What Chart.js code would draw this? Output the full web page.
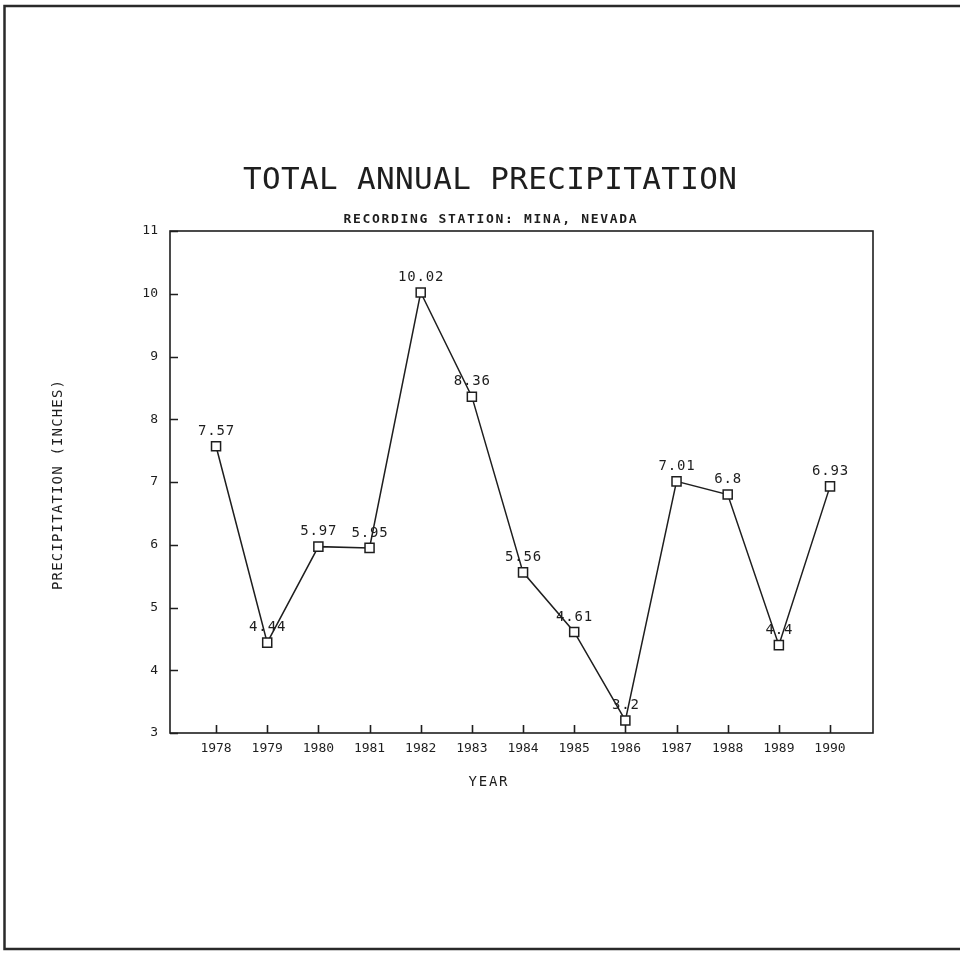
<!DOCTYPE html>
<html>
<head>
<meta charset="utf-8">
<title>Total Annual Precipitation</title>
<script src="https://cdn.jsdelivr.net/npm/chart.js@4.4.1/dist/chart.umd.min.js"></script>
<style>
  html, body { margin: 0; padding: 0; background: #ffffff; }
  canvas { display: block; }
</style>
</head>
<body>
<canvas id="chart" width="960" height="959"></canvas>
<script>
// Annual totals recorded at the Mina, Nevada station
const years = [1978, 1979, 1980, 1981, 1982, 1983, 1984, 1985, 1986, 1987, 1988, 1989, 1990];
const precipitation = [7.57, 4.44, 5.97, 5.95, 10.02, 8.36, 5.56, 4.61, 3.2, 7.01, 6.8, 4.4, 6.93];
const valueLabels = ['7.57', '4.44', '5.97', '5.95', '10.02', '8.36', '5.56', '4.61', '3.2', '7.01', '6.8', '4.4', '6.93'];
const yTicks = [3, 4, 5, 6, 7, 8, 9, 10, 11];

const titleText = 'TOTAL ANNUAL PRECIPITATION';
const subtitleText = 'RECORDING STATION: MINA, NEVADA';
const xTitleText = 'YEAR';
const yTitleText = 'PRECIPITATION (INCHES)';

const INK = '#1e1e1e';
const MONO = '"DejaVu Sans Mono", "Liberation Mono", monospace';

// Text helper: draws text spread to a given width (plotter-style lettering)
function spacedText(ctx, text, x, y, font, width, rotate) {
  ctx.save();
  ctx.font = font;
  ctx.fillStyle = INK;
  ctx.textBaseline = 'middle';
  ctx.textAlign = 'left';
  let spacing = 0;
  if ('letterSpacing' in ctx && width) {
    const w = ctx.measureText(text).width;
    spacing = Math.max(0, (width - w) / Math.max(1, text.length - 1));
    ctx.letterSpacing = spacing + 'px';
  }
  const total = ctx.measureText(text).width - spacing;
  ctx.translate(x, y);
  if (rotate) ctx.rotate(-Math.PI / 2);
  ctx.fillText(text, -total / 2, 0);
  ctx.restore();
}

const decorations = {
  id: 'decorations',
  beforeDraw(chart) {
    const ctx = chart.ctx;
    ctx.save();
    ctx.fillStyle = '#ffffff';
    ctx.fillRect(0, 0, chart.width, chart.height);
    // sheet frame
    ctx.strokeStyle = '#2a2a2a';
    ctx.lineWidth = 2.5;
    ctx.beginPath();
    ctx.moveTo(960, 6);
    ctx.lineTo(4.5, 6);
    ctx.lineTo(4.5, 949);
    ctx.lineTo(960, 949);
    ctx.stroke();
    ctx.restore();
  },
  beforeDatasetsDraw(chart) {
    const ctx = chart.ctx;
    const a = chart.chartArea;
    const xs = chart.scales.x, ys = chart.scales.y;
    ctx.save();
    ctx.strokeStyle = INK;
    ctx.lineWidth = 1.6;
    ctx.strokeRect(a.left, a.top, a.right - a.left, a.bottom - a.top);
    // inward tick marks
    ctx.beginPath();
    years.forEach(v => {
      const px = Math.round(xs.getPixelForValue(v)) + 0.5;
      ctx.moveTo(px, a.bottom);
      ctx.lineTo(px, a.bottom - 8);
    });
    yTicks.forEach(v => {
      const py = Math.round(ys.getPixelForValue(v)) + 0.5;
      ctx.moveTo(a.left, py);
      ctx.lineTo(a.left + 8, py);
    });
    ctx.stroke();
    ctx.restore();
  },
  afterDatasetsDraw(chart) {
    const ctx = chart.ctx;
    const meta = chart.getDatasetMeta(0);
    meta.data.forEach((pt, i) => {
      const label = valueLabels[i];
      spacedText(ctx, label, pt.x, pt.y - 15, '14px ' + MONO, label.length * 9.3 - 1, false);
    });
  },
  afterDraw(chart) {
    const ctx = chart.ctx;
    spacedText(ctx, titleText, 490, 181, '31px ' + MONO, 494, false);
    spacedText(ctx, subtitleText, 490, 220, 'bold 13px ' + MONO, 293, false);
    spacedText(ctx, xTitleText, 488, 782, '14px ' + MONO, 39, false);
    spacedText(ctx, yTitleText, 58, 485, '14px ' + MONO, 210, true);
  }
};

new Chart(document.getElementById('chart'), {
  type: 'line',
  data: {
    datasets: [{
      label: 'Precipitation',
      data: years.map((y, i) => ({ x: y, y: precipitation[i] })),
      borderColor: INK,
      borderWidth: 1.5,
      pointStyle: 'rect',
      pointRadius: 6.4,
      pointBorderWidth: 1.5,
      pointBorderColor: INK,
      pointBackgroundColor: '#ffffff',
      tension: 0,
      fill: false
    }]
  },
  options: {
    responsive: false,
    animation: false,
    events: [],
    layout: { padding: { left: 0, top: 231, right: 87, bottom: 176 } },
    plugins: {
      legend: { display: false },
      title: { display: false },
      tooltip: { enabled: false }
    },
    scales: {
      x: {
        type: 'linear',
        min: 1977.1,
        max: 1990.84,
        grid: { display: false, drawTicks: false },
        border: { display: false },
        afterBuildTicks: s => { s.ticks = years.map(v => ({ value: v })); },
        afterFit: s => { s.height = 50; },
        ticks: {
          autoSkip: false,
          maxRotation: 0,
          padding: 8,
          color: INK,
          font: { family: MONO, size: 13 },
          callback: v => String(v)
        }
      },
      y: {
        type: 'linear',
        min: 3,
        max: 11,
        grid: { display: false, drawTicks: false },
        border: { display: false },
        afterBuildTicks: s => { s.ticks = yTicks.map(v => ({ value: v })); },
        afterFit: s => { s.width = 170; },
        ticks: {
          padding: 12,
          color: INK,
          font: { family: MONO, size: 13 },
          callback: v => String(v)
        }
      }
    }
  },
  plugins: [decorations]
});
</script>
</body>
</html>
